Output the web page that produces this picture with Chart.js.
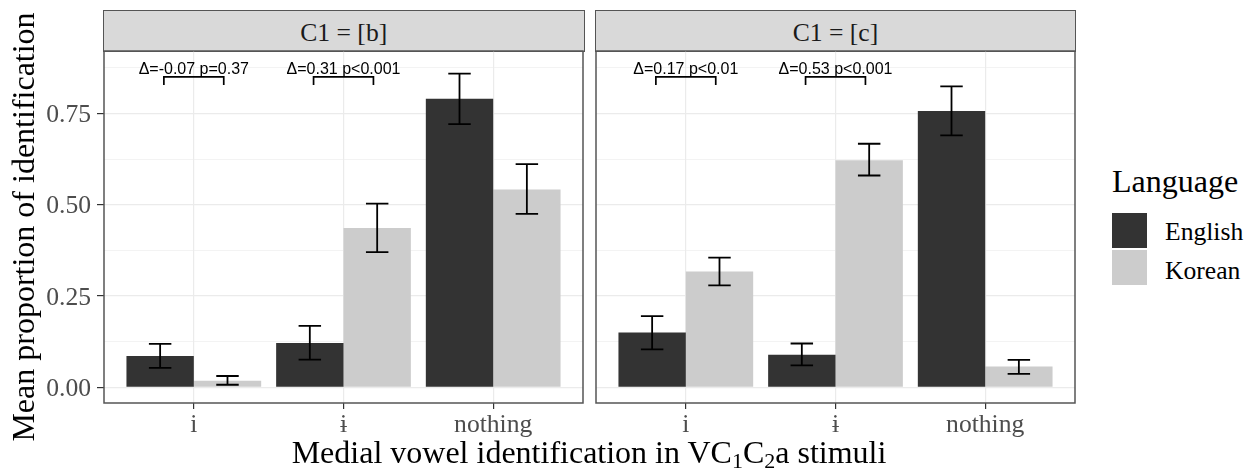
<!DOCTYPE html>
<html>
<head>
<meta charset="utf-8">
<script src="https://cdn.jsdelivr.net/npm/chart.js@4.4.0/dist/chart.umd.min.js"></script>
<style>
  body { margin: 0; background: #fff; }
  #wrap { position: relative; width: 1253px; height: 473px; overflow: hidden; font-family: 'Liberation Serif', serif; }
  .panel { position: absolute; }
  .strip { position: absolute; box-sizing: border-box; background: #D9D9D9; border: 1.5px solid #555;
           color: #1A1A1A; font-size: 25.6px; line-height: 38px; padding-top: 3px; text-align: center; }
  .ytitle { position: absolute; width: 600px; height: 32px; line-height: 32px; font-size: 32px; text-align: center;
            left: -277.5px; top: 211px; transform: rotate(-90deg); color: #000; white-space: nowrap; }
  .xtitle { position: absolute; left: 89px; width: 1000px; top: 436px; height: 32px; line-height: 32px;
            font-size: 32px; text-align: center; color: #000; white-space: nowrap; }
  .xtitle sub { font-size: 22px; line-height: 0; vertical-align: -5px; }
  .legtitle { position: absolute; left: 1112px; top: 165px; font-size: 32px; line-height: 32px; }
  .key { position: absolute; left: 1112px; width: 35px; height: 35px; }
  .keylab { position: absolute; left: 1165px; font-size: 25.6px; line-height: 26px; }
</style>
</head>
<body>
<div id="wrap">
  <div class="strip" id="stripB" style="left:103px; top:9.5px; width:481.5px; height:42.5px;"></div>
  <div class="strip" id="stripC" style="left:595px; top:9.5px; width:481px; height:42.5px;"></div>
  <canvas id="panelB" class="panel" width="590" height="410" style="left:0px; top:40px; width:590px; height:410px;"></canvas>
  <canvas id="panelC" class="panel" width="500" height="410" style="left:586px; top:40px; width:500px; height:410px;"></canvas>
  <div class="ytitle">Mean proportion of identification</div>
  <div class="xtitle">Medial vowel identification in VC<sub>1</sub>C<sub>2</sub>a stimuli</div>
  <div class="legtitle" id="legTitle"></div>
  <div class="key" id="keyEnglish" style="top:213px;"></div>
  <div class="key" id="keyKorean" style="top:250px;"></div>
  <div class="keylab" id="labEnglish" style="top:219px;"></div>
  <div class="keylab" id="labKorean" style="top:257.5px;"></div>
</div>
<script>
// categories and facets
var categories = ['i', 'ɨ', 'nothing'];
var facetLabels = ['C1 = [b]', 'C1 = [c]'];
var seriesNames = ['English', 'Korean'];
var legendTitle = 'Language';

// C1 = [b]
var englishMeanB = [0.086, 0.121, 0.790];
var englishLowB  = [0.053, 0.076, 0.721];
var englishHighB = [0.119, 0.168, 0.859];
var koreanMeanB  = [0.018, 0.436, 0.542];
var koreanLowB   = [0.007, 0.370, 0.475];
var koreanHighB  = [0.031, 0.503, 0.611];
var bracketLabelsB = ['Δ=-0.07 p=0.37', 'Δ=0.31 p<0.001'];

// C1 = [c]
var englishMeanC = [0.150, 0.089, 0.757];
var englishLowC  = [0.104, 0.060, 0.690];
var englishHighC = [0.195, 0.120, 0.824];
var koreanMeanC  = [0.317, 0.622, 0.057];
var koreanLowC   = [0.279, 0.580, 0.037];
var koreanHighC  = [0.355, 0.667, 0.075];
var bracketLabelsC = ['Δ=0.17 p<0.01', 'Δ=0.53 p<0.001'];

// significance brackets sit at this height, tips drop to bracketTip
var bracketY = 0.85;
var bracketTip = 0.828;

// y axis ticks
var yTicks = [0, 0.25, 0.5, 0.75];
var yTickLabels = ['0.00', '0.25', '0.50', '0.75'];

var englishColor = '#333333';
var koreanColor = '#CCCCCC';

// fill in html text
document.getElementById('stripB').textContent = facetLabels[0];
document.getElementById('stripC').textContent = facetLabels[1];
document.getElementById('legTitle').textContent = legendTitle;
document.getElementById('labEnglish').textContent = seriesNames[0];
document.getElementById('labKorean').textContent = seriesNames[1];
document.getElementById('keyEnglish').style.background = englishColor;
document.getElementById('keyKorean').style.background = koreanColor;

// minor gridlines halfway between the major ones
var yAllTicks = [];
yTicks.forEach(function(v, i) {
    yAllTicks.push(v);
    var next = i < yTicks.length - 1 ? yTicks[i + 1] : v + (yTicks[1] - yTicks[0]);
    yAllTicks.push((v + next) / 2);
});
function isMajor(v) {
    return yTicks.some(function(t) { return Math.abs(t - v) < 1e-6; });
}

// error bars drawn on top of each bar
var errorBarPlugin = {
    id: 'errorBars',
    afterDatasetsDraw: function(chart) {
        var ctx = chart.ctx, xs = chart.scales.x, ys = chart.scales.y;
        var half = xs.getPixelForValue(1.075) - xs.getPixelForValue(1);
        ctx.save();
        ctx.strokeStyle = '#000';
        ctx.lineWidth = 1.8;
        chart.data.datasets.forEach(function(ds, di) {
            chart.getDatasetMeta(di).data.forEach(function(bar, i) {
                var top = ys.getPixelForValue(ds.errHigh[i]);
                var bot = ys.getPixelForValue(ds.errLow[i]);
                ctx.beginPath();
                ctx.moveTo(bar.x - half, top); ctx.lineTo(bar.x + half, top);
                ctx.moveTo(bar.x, top); ctx.lineTo(bar.x, bot);
                ctx.moveTo(bar.x - half, bot); ctx.lineTo(bar.x + half, bot);
                ctx.stroke();
            });
        });
        ctx.restore();
    }
};

// significance brackets over the first two categories
var bracketPlugin = {
    id: 'sigBrackets',
    afterDatasetsDraw: function(chart, args, opts) {
        var ctx = chart.ctx, xs = chart.scales.x, ys = chart.scales.y;
        var yLine = ys.getPixelForValue(bracketY);
        var yTip = ys.getPixelForValue(bracketTip);
        ctx.save();
        ctx.strokeStyle = '#000';
        ctx.fillStyle = '#000';
        ctx.lineWidth = 1.7;
        ctx.font = '16px "Liberation Sans", Arial, sans-serif';
        ctx.textAlign = 'center';
        ctx.textBaseline = 'alphabetic';
        opts.labels.forEach(function(label, i) {
            var l = xs.getPixelForValue(i + 1 - 0.2);
            var r = xs.getPixelForValue(i + 1 + 0.2);
            ctx.beginPath();
            ctx.moveTo(l, yTip); ctx.lineTo(l, yLine); ctx.lineTo(r, yLine); ctx.lineTo(r, yTip);
            ctx.stroke();
            ctx.fillText(label, xs.getPixelForValue(i + 1), yLine - 2.5);
        });
        ctx.restore();
    }
};

// panel border
var panelBoxPlugin = {
    id: 'panelBox',
    afterDraw: function(chart) {
        var a = chart.chartArea, ctx = chart.ctx;
        ctx.save();
        ctx.strokeStyle = '#555';
        ctx.lineWidth = 1.5;
        ctx.strokeRect(a.left, a.top, a.right - a.left, a.bottom - a.top);
        ctx.restore();
    }
};

function noPadding(scale) {
    scale.paddingTop = 0;
    scale.paddingBottom = 0;
    scale.paddingLeft = 0;
    scale.paddingRight = 0;
}

function makePanel(canvasId, eMean, eLow, eHigh, kMean, kLow, kHigh, brackets, showY) {
    var ctx = document.getElementById(canvasId).getContext('2d');
    return new Chart(ctx, {
        type: 'bar',
        data: {
            datasets: [{
                label: seriesNames[0],
                data: eMean.map(function(v, i) { return { x: i + 1, y: v }; }),
                errLow: eLow,
                errHigh: eHigh,
                backgroundColor: englishColor
            }, {
                label: seriesNames[1],
                data: kMean.map(function(v, i) { return { x: i + 1, y: v }; }),
                errLow: kLow,
                errHigh: kHigh,
                backgroundColor: koreanColor
            }]
        },
        options: {
            responsive: false,
            animation: false,
            events: [],
            categoryPercentage: 0.9,
            barPercentage: 1.0,
            layout: { padding: { top: 11, right: showY ? 7 : 11, bottom: 0, left: 0 } },
            plugins: {
                legend: { display: false },
                tooltip: { enabled: false },
                sigBrackets: { labels: brackets }
            },
            scales: {
                x: {
                    type: 'linear',
                    min: 0.4,
                    max: 3.6,
                    offset: false,
                    afterBuildTicks: function(scale) {
                        scale.ticks = categories.map(function(c, i) { return { value: i + 1 }; });
                    },
                    afterFit: function(scale) { scale.height = 47; noPadding(scale); },
                    border: { display: false },
                    grid: { offset: false, color: '#EBEBEB', lineWidth: 1.2, tickColor: '#333333', tickLength: 6, tickWidth: 1.2 },
                    ticks: {
                        padding: 1,
                        color: '#4D4D4D',
                        font: { family: 'Liberation Serif', size: 25.6 },
                        callback: function(v, i) { return categories[i]; }
                    }
                },
                y: {
                    min: -0.043,
                    max: 0.921,
                    afterBuildTicks: function(scale) {
                        scale.ticks = yAllTicks.map(function(v) { return { value: v }; });
                    },
                    afterFit: function(scale) { scale.width = showY ? 104 : 10; noPadding(scale); },
                    border: { display: false },
                    grid: {
                        drawTicks: showY,
                        tickLength: 7,
                        color: '#EBEBEB',
                        lineWidth: function(c) { return isMajor(c.tick.value) ? 1.2 : 0.6; },
                        tickColor: function(c) { return isMajor(c.tick.value) ? '#333333' : 'rgba(0,0,0,0)'; },
                        tickWidth: 1.2
                    },
                    ticks: {
                        display: showY,
                        padding: 6,
                        labelOffset: 2,
                        color: '#4D4D4D',
                        font: { family: 'Liberation Serif', size: 25.6 },
                        callback: function(v) {
                            var i = yTicks.findIndex(function(t) { return Math.abs(t - v) < 1e-6; });
                            return i >= 0 ? yTickLabels[i] : '';
                        }
                    }
                }
            }
        },
        plugins: [errorBarPlugin, bracketPlugin, panelBoxPlugin]
    });
}

makePanel('panelB', englishMeanB, englishLowB, englishHighB, koreanMeanB, koreanLowB, koreanHighB, bracketLabelsB, true);
makePanel('panelC', englishMeanC, englishLowC, englishHighC, koreanMeanC, koreanLowC, koreanHighC, bracketLabelsC, false);
</script>
</body>
</html>
